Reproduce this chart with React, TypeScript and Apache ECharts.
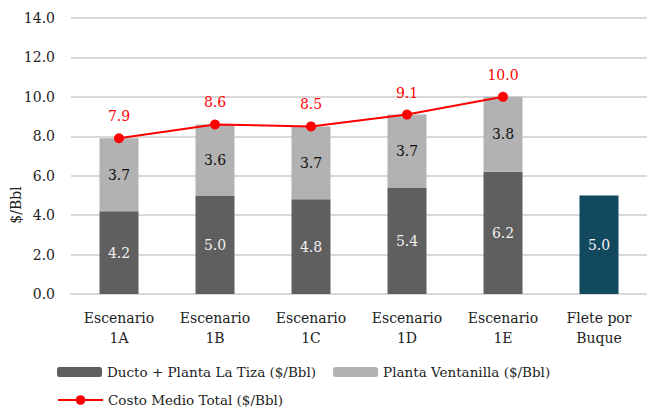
import React, { useEffect, useRef } from "react";
import * as echarts from "echarts";

const categories = ["Escenario\n1A", "Escenario\n1B", "Escenario\n1C", "Escenario\n1D", "Escenario\n1E", "Flete por\nBuque"];
const ductoLaTiza = [4.2, 5.0, 4.8, 5.4, 6.2, null];
const plantaVentanilla = [3.7, 3.6, 3.7, 3.7, 3.8, null];
const fleteBuque = [null, null, null, null, null, 5.0];
const costoMedioTotal = [7.9, 8.6, 8.5, 9.1, 10.0, null];

const FONT = "DejaVu Serif";
const FS = 14;

export default function App() {
  const ref = useRef<HTMLDivElement>(null);
  useEffect(() => {
    if (!ref.current) return;
    const chart = echarts.init(ref.current, undefined, { renderer: "svg" });
    const fmt = (p: any) => (p.value == null ? "" : Number(p.value).toFixed(1));
    chart.setOption({
      animation: false,
      textStyle: { fontFamily: FONT },
      grid: { left: 71, top: 18, width: 580, height: 276, containLabel: false },
      graphic: [
        {
          type: "text",
          x: 16,
          y: 205,
          rotation: Math.PI / 2,
          style: { text: "$/Bbl", fontFamily: FONT, fontSize: FS, fill: "#222", align: "center", verticalAlign: "middle" },
        },
      ],
      legend: [
        {
          left: 57,
          top: 365,
          itemWidth: 45,
          itemHeight: 10,
          itemGap: 17,
          padding: 0,
          textStyle: { fontFamily: FONT, fontSize: 13.5, color: "#222" },
          data: ["Ducto + Planta La Tiza ($/Bbl)", "Planta Ventanilla ($/Bbl)"],
        },
        {
          left: 57,
          top: 393,
          itemWidth: 45,
          itemHeight: 12,
          padding: 0,
          textStyle: { fontFamily: FONT, fontSize: 13.5, color: "#222" },
          data: ["Costo Medio Total ($/Bbl)"],
        },
      ],
      xAxis: {
        type: "category",
        data: categories,
        axisLine: { show: true, lineStyle: { color: "#d9d9d9", width: 2 } },
        axisTick: { show: false },
        axisLabel: { fontFamily: FONT, fontSize: FS, color: "#222", lineHeight: 20, margin: 14, interval: 0 },
      },
      yAxis: {
        type: "value",
        min: 0,
        max: 14,
        interval: 2,
        axisLine: { show: false },
        axisTick: { show: false },
        splitLine: { lineStyle: { color: "#d9d9d9", width: 2 } },
        axisLabel: {
          fontFamily: FONT,
          fontSize: FS,
          color: "#222",
          margin: 16,
          formatter: (v: number) => v.toFixed(1),
        },
      },
      series: [
        {
          name: "Ducto + Planta La Tiza ($/Bbl)",
          type: "bar",
          stack: "s",
          barWidth: 39,
          data: ductoLaTiza,
          itemStyle: { color: "#5f5f5f" },
          label: { show: true, position: "inside", color: "#f2f2f2", fontFamily: FONT, fontSize: FS, formatter: fmt },
        },
        {
          name: "Planta Ventanilla ($/Bbl)",
          type: "bar",
          stack: "s",
          barWidth: 39,
          data: plantaVentanilla,
          itemStyle: { color: "#b2b2b2" },
          label: { show: true, position: "inside", color: "#111", fontFamily: FONT, fontSize: FS, formatter: fmt },
        },
        {
          name: "Flete por Buque",
          type: "bar",
          stack: "s",
          barWidth: 39,
          data: fleteBuque,
          itemStyle: { color: "#13495f" },
          label: { show: true, position: "inside", color: "#f2f2f2", fontFamily: FONT, fontSize: FS, formatter: fmt },
        },
        {
          name: "Costo Medio Total ($/Bbl)",
          type: "line",
          data: costoMedioTotal,
          symbol: "circle",
          symbolSize: 10,
          lineStyle: { color: "#ff0000", width: 2 },
          itemStyle: { color: "#ff0000" },
          label: { show: true, position: "top", distance: 10, color: "#ff0000", fontFamily: FONT, fontSize: FS, formatter: fmt },
          z: 5,
        },
      ],
    });
    return () => chart.dispose();
  }, []);
  return <div ref={ref} style={{ position: "fixed", left: 0, top: 0, width: 647, height: 412, background: "#fff" }} />;
}
